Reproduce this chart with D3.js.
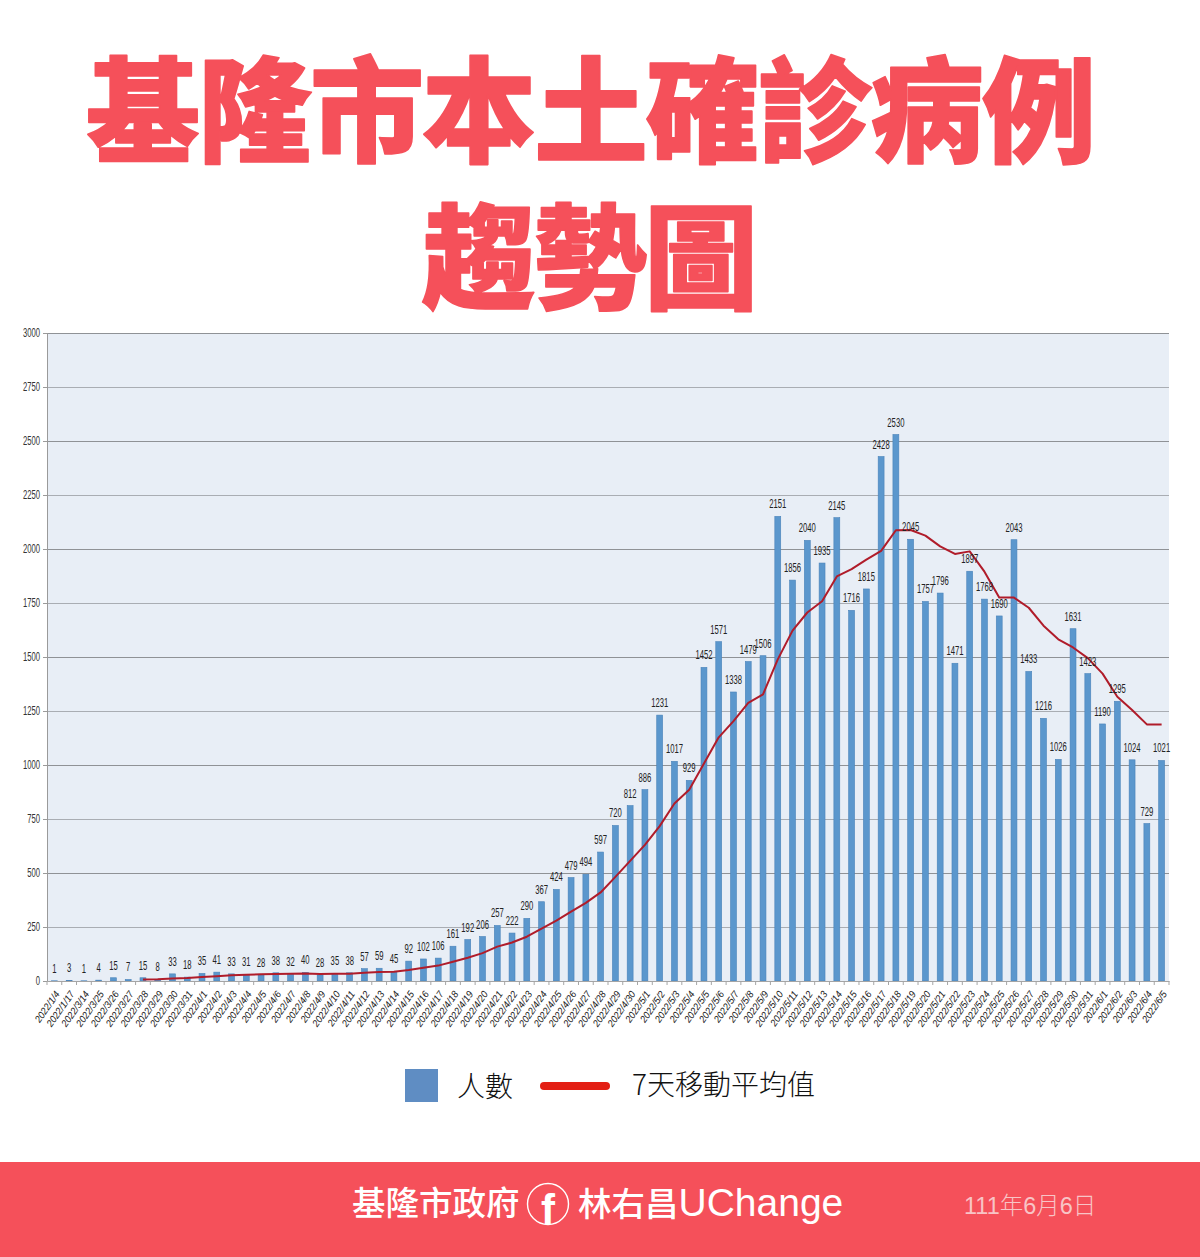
<!DOCTYPE html>
<html lang="zh-Hant">
<head>
<meta charset="utf-8">
<script src="https://cdn.jsdelivr.net/npm/d3@7/dist/d3.min.js"></script>
<style>
html,body{margin:0;padding:0;background:#fff;overflow:hidden}
svg{display:block}
text{font-family:"Noto Sans CJK TC","Noto Sans",sans-serif}
</style>
</head>
<body>
<div id="chart"></div>
<script>
const dates = ["2022/1/4","2022/1/17","2022/3/14","2022/3/25","2022/3/26","2022/3/27","2022/3/28","2022/3/29","2022/3/30","2022/3/31",
"2022/4/1","2022/4/2","2022/4/3","2022/4/4","2022/4/5","2022/4/6","2022/4/7","2022/4/8","2022/4/9","2022/4/10","2022/4/11","2022/4/12","2022/4/13","2022/4/14","2022/4/15","2022/4/16","2022/4/17","2022/4/18","2022/4/19","2022/4/20","2022/4/21","2022/4/22","2022/4/23","2022/4/24","2022/4/25","2022/4/26","2022/4/27","2022/4/28","2022/4/29","2022/4/30",
"2022/5/1","2022/5/2","2022/5/3","2022/5/4","2022/5/5","2022/5/6","2022/5/7","2022/5/8","2022/5/9","2022/5/10","2022/5/11","2022/5/12","2022/5/13","2022/5/14","2022/5/15","2022/5/16","2022/5/17","2022/5/18","2022/5/19","2022/5/20","2022/5/21","2022/5/22","2022/5/23","2022/5/24","2022/5/25","2022/5/26","2022/5/27","2022/5/28","2022/5/29","2022/5/30","2022/5/31",
"2022/6/1","2022/6/2","2022/6/3","2022/6/4","2022/6/5"];
const cases = [1,3,1,4,15,7,15,8,33,18,
35,41,33,31,28,38,32,40,28,35,38,57,59,45,92,102,106,161,192,206,257,222,290,367,424,479,494,597,720,812,
886,1231,1017,929,1452,1571,1338,1479,1506,2151,1856,2040,1935,2145,1716,1815,2428,2530,2045,1757,1796,1471,1897,1768,1690,2043,1433,1216,1026,1631,1423,
1190,1295,1024,729,1021];
const movingAvg = [null,null,null,null,null,null,6.6,7.6,11.9,14.3,
18.7,22.4,26.1,28.4,31.3,32,34,34.7,32.9,33.1,34.1,38.3,41.3,43.1,50.6,61.1,71.3,88.9,108,129,159,178,205,242,280,321,362,410,482,556,
630,717,822,885,1007,1128,1203,1288,1327,1489,1622,1706,1758,1873,1907,1951,1991,2087,2088,2062,2012,1977,1989,1895,1775,1775,1728,1645,1582,1544,1495,
1423,1316,1255,1188,1188];
const yTicks = [0,250,500,750,1000,1250,1500,1750,2000,2250,2500,2750,3000];
const titleLines = ["基隆市本土確診病例","趨勢圖"];
const legendLabels = ["人數","7天移動平均值"];
const footerLeft = "基隆市政府", footerNameCjk = "林右昌", footerNameLatin = "UChange", footerDate = "111年6月6日";

const RED="#f5505a", BLUE="#5b97cd";
const LATIN="'Liberation Sans','Noto Sans CJK TC',sans-serif";
const svg=d3.select("#chart").append("svg").attr("width",1200).attr("height",1257);
svg.append("rect").attr("width",1200).attr("height",1257).attr("fill","#fff");

// title
svg.selectAll(".title").data(titleLines).join("text").attr("class","title")
  .attr("x",(d,i)=>i?590:591).attr("y",(d,i)=>i?300:153)
  .attr("text-anchor","middle")
  .attr("font-size",114).attr("font-weight",900)
  .attr("textLength",(d,i)=>i?336:1010).attr("lengthAdjust","spacing")
  .attr("fill",RED).attr("stroke",RED).attr("stroke-width",1.6).attr("stroke-linejoin","round")
  .text(d=>d);

// chart
const L=47,R=1169,T=333,B=981;
const x=d3.scaleBand().domain(dates).range([L,R]).paddingInner(0.6).paddingOuter(0.3);
const y=d3.scaleLinear().domain([0,3000]).range([B,T]);
const step=x.step();

svg.append("rect").attr("x",L).attr("y",T).attr("width",R-L).attr("height",B-T).attr("fill","#e8eef6");
svg.append("g").selectAll("line").data(yTicks.slice(1)).join("line")
  .attr("x1",L).attr("x2",R).attr("y1",d=>y(d)+.5).attr("y2",d=>y(d)+.5)
  .attr("stroke",d=>d%500===0?"#8f9296":"#a9adb3").attr("stroke-width",1);

svg.append("g").selectAll("rect").data(dates).join("rect")
  .attr("x",d=>x(d)).attr("width",x.bandwidth())
  .attr("y",(d,i)=>y(cases[i])).attr("height",(d,i)=>B-y(cases[i]))
  .attr("fill",BLUE).attr("stroke","#4a83ba").attr("stroke-width",.6);

const line=d3.line().defined(d=>d.v!==null).x(d=>x(d.k)+x.bandwidth()/2).y(d=>y(d.v));
svg.append("path").datum(dates.map((k,i)=>({k,v:movingAvg[i]}))).attr("d",line)
  .attr("fill","none").attr("stroke","#b01c2a").attr("stroke-width",2).attr("stroke-linejoin","round");

// data labels
svg.append("g").selectAll("text").data(dates).join("text")
  .attr("transform",(d,i)=>`translate(${x(d)+x.bandwidth()/2},${y(cases[i])-8}) scale(.64,1)`)
  .attr("text-anchor","middle").attr("font-size",12).attr("fill","#222")
  .style("font-family",LATIN)
  .text((d,i)=>cases[i]);

// y axis
const ya=svg.append("g").attr("transform",`translate(${L},0)`).call(d3.axisLeft(y).tickValues(yTicks).tickSize(4).tickFormat(d3.format("d")));
ya.select(".domain").attr("stroke","#9a9a9a");
ya.selectAll("line").attr("stroke","#9a9a9a");
ya.selectAll("text").attr("x",0).attr("transform","translate(-7,0) scale(.64,1)")
  .attr("font-size",12).attr("fill","#333").style("font-family",LATIN);

// x axis
const xa=svg.append("g").attr("transform",`translate(0,${B})`).call(d3.axisBottom(x).tickSize(0).tickPadding(0));
xa.select(".domain").attr("stroke","#a5a5a5");
xa.selectAll("text")
  .attr("transform",`translate(3,11) rotate(-55) scale(.92,1)`).attr("text-anchor","end").attr("dy","0.35em").attr("y",0)
  .attr("font-size",10).attr("fill","#222").attr("font-style","italic")
  .style("font-family",LATIN);
svg.append("g").selectAll("line").data(dates.concat(["end"])).join("line")
  .attr("x1",(d,i)=>L+i*step).attr("x2",(d,i)=>L+i*step).attr("y1",B).attr("y2",B+4).attr("stroke","#a5a5a5");

// legend
svg.append("rect").attr("x",405).attr("y",1069).attr("width",33).attr("height",33).attr("fill","#5f8dc3");
svg.append("text").attr("x",457).attr("y",1097).attr("font-size",28).attr("font-weight",300).attr("fill","#111").text(legendLabels[0]);
svg.append("line").attr("x1",544).attr("x2",606).attr("y1",1086).attr("y2",1086).attr("stroke","#e31f14").attr("stroke-width",8).attr("stroke-linecap","round");
svg.append("text").attr("x",632).attr("y",1095).attr("font-size",28).attr("font-weight",300).attr("fill","#111").text(legendLabels[1]);

// footer
svg.append("rect").attr("x",0).attr("y",1162).attr("width",1200).attr("height",95).attr("fill",RED);
svg.append("text").attr("x",352).attr("y",1215).attr("font-size",33.5).attr("font-weight",500).attr("fill","#fff").text(footerLeft);
svg.append("circle").attr("cx",548).attr("cy",1204).attr("r",20.5).attr("fill","none").attr("stroke","#fff").attr("stroke-width",1.4);
svg.append("text").attr("x",548).attr("y",1224).attr("text-anchor","middle").attr("font-size",42).attr("font-weight",700).attr("fill","#fff").style("font-family","'Liberation Sans',sans-serif").text("f");
const nm=svg.append("text").attr("x",578).attr("y",1216).attr("font-size",33.5).attr("font-weight",500).attr("fill","#fff");
nm.append("tspan").text(footerNameCjk);
nm.append("tspan").style("font-family","'Liberation Sans',sans-serif").attr("font-size",39).text(footerNameLatin);
svg.append("text").attr("x",964).attr("y",1214).attr("font-size",23.5).attr("font-weight",300).attr("fill","#f8c4c6").style("font-family",LATIN).text(footerDate);
</script>
</body>
</html>
